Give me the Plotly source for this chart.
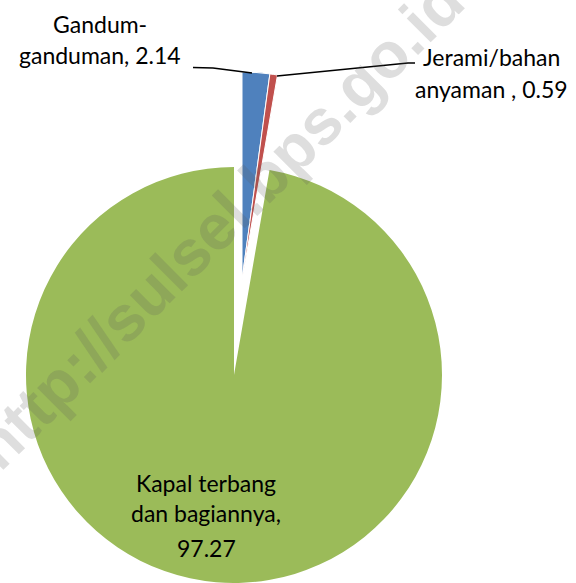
import plotly.graph_objects as go

# ---- data ----
labels = ["Gandum-ganduman", "Jerami/bahan anyaman ", "Kapal terbang dan bagiannya"]
label_lines = [["Gandum-", "ganduman,"], ["Jerami/bahan", "anyaman ,"], ["Kapal terbang", "dan bagiannya,"]]
values = [2.14, 0.59, 97.27]
value_on_own_line = [False, False, True]
colors = ["#4F81BD", "#C0504D", "#9BBB59"]

W, H = 576, 583
FONT = "Lato, 'Open Sans', sans-serif"

def xdom(cx, r):
    return [(cx - r) / W, (cx + r) / W]

def ydom(cy, r):
    return [max(0.0, 1 - (cy + r) / H), min(1.0, 1 - (cy - r) / H)]

R = 208
transparent = "rgba(0,0,0,0)"

fig = go.Figure()
# main (green) slice, not exploded
fig.add_trace(go.Pie(
    labels=labels, values=values, sort=False, direction="clockwise", rotation=0,
    marker=dict(colors=[transparent, transparent, colors[2]],
                line=dict(color="rgba(120,150,60,0.8)", width=[0, 0, 0])),
    textinfo="none", hoverinfo="label+value", showlegend=False,
    domain=dict(x=xdom(234, R), y=ydom(375, R)),
))
# exploded small slices
fig.add_trace(go.Pie(
    labels=labels, values=values, sort=False, direction="clockwise", rotation=0,
    marker=dict(colors=[colors[0], colors[1], transparent],
                line=dict(color="white", width=[1, 1, 0])),
    textinfo="none", hoverinfo="label+value", showlegend=False,
    domain=dict(x=xdom(242, R), y=ydom(280, R)),
))

# data labels (one annotation per text line)
label_x = [100, 491, 206]
label_line_y = [[24, 55], [57, 89], [483, 513, 548]]
for lines, val, own, px, ys in zip(label_lines, values, value_on_own_line, label_x, label_line_y):
    if own:
        texts = lines + [f"{val:.2f}"]
    else:
        texts = lines[:-1] + [f"{lines[-1]} {val:.2f}"]
    for t, py in zip(texts, ys):
        fig.add_annotation(
            text=t, x=px / W, y=1 - py / H, xref="paper", yref="paper",
            xanchor="center", yanchor="middle", showarrow=False, align="center",
            font=dict(family=FONT, size=23, color="black"),
        )

# leader lines
def path(pts):
    return "M " + " L ".join(f"{x / W},{1 - y / H}" for x, y in pts)

fig.add_shape(type="path", xref="paper", yref="paper",
              path=path([(193, 67.5), (213, 68), (252, 73)]),
              line=dict(color="black", width=1.5))
fig.add_shape(type="path", xref="paper", yref="paper",
              path=path([(277, 76), (408, 63), (415, 63)]),
              line=dict(color="black", width=1.5))

# watermark
fig.add_annotation(
    text="<b>http://sulsel.bps.go.id</b>", x=218 / W, y=1 - 224 / H, xref="paper", yref="paper",
    showarrow=False, textangle=-45,
    font=dict(family="Liberation Sans, Arial, sans-serif", size=64, color="rgba(90,90,90,0.2)"),
    xanchor="center", yanchor="middle",
)

fig.update_layout(
    width=W, height=H, margin=dict(l=0, r=0, t=0, b=0),
    paper_bgcolor="white", plot_bgcolor="white",
)
fig.write_html("out.html", config={"displayModeBar": False},
               post_script="document.body.style.margin='0';")
